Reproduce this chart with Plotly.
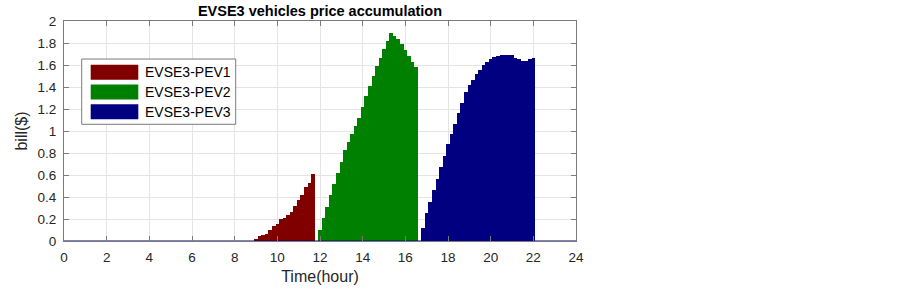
import plotly.graph_objects as go

# ---- data ----
STEP_H = 1 / 6  # 10-minute resolution, hours

PEV1_START = 9.0
PEV1_BILL = [0.01, 0.043, 0.052, 0.061, 0.097, 0.136, 0.158, 0.200, 0.206,
             0.234, 0.261, 0.315, 0.376, 0.418, 0.491, 0.531, 0.606]

PEV2_START = 12.0
PEV2_BILL = [0.104, 0.206, 0.309, 0.415, 0.515, 0.618, 0.720, 0.824, 0.903,
             0.976, 1.043, 1.118, 1.218, 1.315, 1.406, 1.497, 1.588, 1.667,
             1.745, 1.818, 1.891, 1.867, 1.836, 1.794, 1.740, 1.685, 1.630,
             1.582]

PEV3_START = 16.833
PEV3_BILL = [0.122, 0.255, 0.358, 0.461, 0.567, 0.673, 0.776, 0.879, 0.970,
             1.067, 1.164, 1.258, 1.355, 1.421, 1.467, 1.515, 1.558, 1.597,
             1.627, 1.655, 1.673, 1.682, 1.688, 1.691, 1.691, 1.688, 1.667,
             1.652, 1.640, 1.640, 1.652, 1.667]

DAY_RANGE = [0, 24]
SERIES_NAMES = ["EVSE3-PEV1", "EVSE3-PEV2", "EVSE3-PEV3"]
COLORS = ["#800000", "#008000", "#000080"]
X_TICKS = list(range(0, 25, 2))
Y_TICKS = [0, 0.2, 0.4, 0.6, 0.8, 1, 1.2, 1.4, 1.6, 1.8, 2]
Y_TICK_TEXT = ["0", "0.2", "0.4", "0.6", "0.8", "1", "1.2", "1.4", "1.6", "1.8", "2"]

FONT = "Liberation Sans, Arial, sans-serif"

# ---- layout geometry (pixels) ----
W, H = 903, 290
L, R, T, B = 64, 327, 21, 49
PW, PH = W - L - R, H - T - B


def px_x(p):
    return (p - L) / PW


def px_y(p):
    return (H - B - p) / PH


fig = go.Figure()

series = [(PEV1_START, PEV1_BILL), (PEV2_START, PEV2_BILL), (PEV3_START, PEV3_BILL)]
for (start, vals), name, col in zip(series, SERIES_NAMES, COLORS):
    xs = [start + i * STEP_H for i in range(len(vals))]
    fig.add_trace(go.Bar(
        x=xs, y=vals, width=STEP_H, name=name,
        marker=dict(color=col, line=dict(width=0)),
        showlegend=False,
    ))

# zero-height bars in MATLAB leave an edge along the baseline
fig.add_trace(go.Scatter(
    x=DAY_RANGE, y=[0, 0], mode="lines",
    line=dict(color=COLORS[2], width=1), showlegend=False, hoverinfo="skip",
))

axis_common = dict(
    showline=True, mirror="ticks", linecolor="#7a7a7a", linewidth=1,
    ticks="inside", ticklen=5, tickcolor="#7a7a7a", tickwidth=1,
    showgrid=True, gridcolor="#e4e4e4", gridwidth=1, zeroline=False,
    tickfont=dict(family=FONT, size=13.5, color="#262626"),
    automargin=False,
)

fig.update_xaxes(
    range=DAY_RANGE, tickvals=X_TICKS, ticktext=[str(v) for v in X_TICKS],
    ticklabelstandoff=4,
    title=dict(text="Time(hour)", font=dict(family=FONT, size=16, color="#262626"), standoff=6),
    **axis_common,
)
fig.update_yaxes(
    range=[0, 2], tickvals=Y_TICKS, ticktext=Y_TICK_TEXT,
    ticklabelstandoff=4,
    title=dict(text="bill($)", font=dict(family=FONT, size=16, color="#262626"), standoff=5),
    **axis_common,
)

# ---- custom legend (MATLAB style wide swatches) ----
shapes = [dict(
    type="rect", xref="paper", yref="paper",
    x0=px_x(81.7), x1=px_x(235.7), y0=px_y(124.3), y1=px_y(59.0),
    line=dict(color="#7a7a7a", width=1), fillcolor="white", layer="above",
)]
annotations = []
row_centers = [72.3, 92.0, 111.7]
for name, col, cy in zip(SERIES_NAMES, COLORS, row_centers):
    shapes.append(dict(
        type="rect", xref="paper", yref="paper",
        x0=px_x(90.7), x1=px_x(138.3), y0=px_y(cy + 7.5), y1=px_y(cy - 7.5),
        line=dict(width=0), fillcolor=col, layer="above",
    ))
    annotations.append(dict(
        text=name, xref="paper", yref="paper", x=px_x(143.0), y=px_y(cy),
        xanchor="left", yanchor="middle", showarrow=False,
        font=dict(family=FONT, size=14, color="#000000"),
    ))

fig.update_layout(
    width=W, height=H,
    margin=dict(l=L, r=R, t=T, b=B, pad=0),
    paper_bgcolor="white", plot_bgcolor="white",
    bargap=0, barmode="overlay",
    title=dict(
        text="EVSE3 vehicles price accumulation",
        x=(L + PW / 2) / W, xanchor="center", y=1 - 11 / H, yanchor="middle",
        font=dict(family=FONT, size=14.5, color="#000000", weight="bold"),
    ),
    shapes=shapes, annotations=annotations,
)

fig.write_html(
    "out.html",
    config={"displayModeBar": False},
    post_script="document.body.style.margin='0';document.body.style.overflow='hidden';",
)
